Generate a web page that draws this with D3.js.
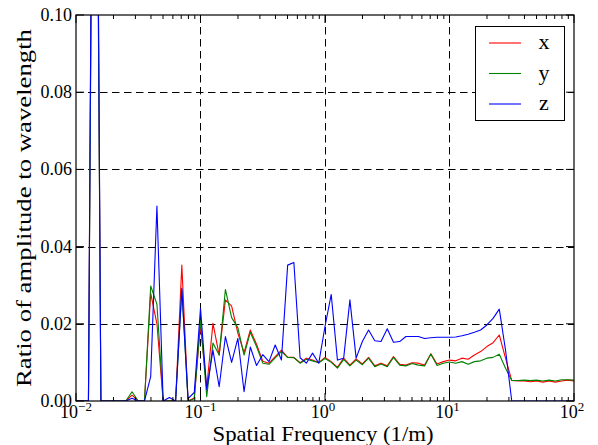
<!DOCTYPE html>
<html>
<head>
<meta charset="utf-8">
<script src="https://cdn.jsdelivr.net/npm/d3@7"></script>
<style>
  body { margin: 0; background: #fff; }
</style>
</head>
<body>
<div id="chart"></div>
<script>
// chart size and plot area
const width = 598;
const height = 445;
const margin = {top: 15, right: 24, bottom: 44, left: 76};
const serif = "'Liberation Serif', 'Times New Roman', serif";

// frequency grid: 81 log-spaced samples, 10^-2 .. 10^2
const freqExponents = d3.range(81).map(i => -2 + 0.05 * i);
const frequencies = freqExponents.map(e => Math.pow(10, e));

// series values (ratio of amplitude to wavelength)
const xValues = [0, 0, 0, 0.25, 0, 0, 0, 0, 0, 0.0015, 0, 0, 0.0279, 0.0200, 0, 0, 0, 0.0352, 0, 0.0008,
  0.0198, 0.0035, 0.0201, 0.0119, 0.0262, 0.0246, 0.0176, 0.0125, 0.0184, 0.0147, 0.0103, 0.0098, 0.0115, 0.0132, 0.0113, 0.0113, 0.0099, 0.0111, 0.0106, 0.0099,
  0.0113, 0.0102, 0.0087, 0.0111, 0.0093, 0.0109, 0.0096, 0.0113, 0.0091, 0.0098, 0.0091, 0.0115, 0.0095, 0.0093, 0.0099, 0.0098, 0.0093, 0.0122, 0.0096, 0.0102,
  0.0106, 0.0104, 0.0111, 0.0108, 0.0119, 0.0128, 0.0141, 0.0151, 0.0171, 0.0111, 0.0053, 0.0052, 0.0052, 0.0050, 0.0052, 0.0049, 0.0052, 0.0049, 0.0052, 0.0054, 0.0052];

const yValues = [0, 0, 0, 0.24, 0, 0, 0, 0, 0, 0.0024, 0, 0, 0.0298, 0.0251, 0, 0, 0, 0.0288, 0, 0.0006,
  0.0210, 0.0011, 0.0150, 0.0119, 0.0289, 0.0216, 0.0190, 0.0119, 0.0178, 0.0141, 0.0098, 0.0095, 0.0112, 0.0128, 0.0113, 0.0112, 0.0098, 0.0108, 0.0104, 0.0099,
  0.0110, 0.0100, 0.0085, 0.0108, 0.0091, 0.0106, 0.0094, 0.0111, 0.0089, 0.0096, 0.0089, 0.0113, 0.0093, 0.0091, 0.0097, 0.0093, 0.0091, 0.0122, 0.0092, 0.0098,
  0.0101, 0.0098, 0.0102, 0.0095, 0.0102, 0.0104, 0.0111, 0.0113, 0.0121, 0.0085, 0.0053, 0.0053, 0.0054, 0.0053, 0.0054, 0.0052, 0.0054, 0.0052, 0.0055, 0.0055, 0.0054];

const zValues = [0, 0, 0, 0.26, 0, 0, 0, 0, 0, 0.0007, 0, 0, 0.0063, 0.0505, 0, 0.0009, 0, 0.0292, 0.0006, 0.0022,
  0.0240, 0.0030, 0.0132, 0.0037, 0.0167, 0.0100, 0.0162, 0.0024, 0.0140, 0.0092, 0.0120, 0.0102, 0.0145, 0.0106, 0.0352, 0.0359, 0.0112, 0.0098, 0.0124, 0.0098,
  0.0193, 0.0276, 0.0106, 0.0111, 0.0262, 0.0111, 0.0154, 0.0184, 0.0156, 0.0154, 0.0187, 0.0152, 0.0154, 0.0167, 0.0167, 0.0167, 0.0162, 0.0164, 0.0165, 0.0165,
  0.0165, 0.0166, 0.0169, 0.0173, 0.0178, 0.0184, 0.0197, 0.0214, 0.0238, 0.0132, 0, 0, 0, 0, 0, 0, 0, 0, 0, 0, 0];

const seriesNames = ["x", "y", "z"];
const seriesColors = ["#ff0000", "#008000", "#0000ff"];
const yTicks = [0, 0.02, 0.04, 0.06, 0.08, 0.10];
const xTicks = [-2, -1, 0, 1, 2];

const series = [xValues, yValues, zValues].map((vals, k) => ({
  name: seriesNames[k],
  color: seriesColors[k],
  points: vals.map((v, i) => ({f: frequencies[i], v: v}))
}));

const x = d3.scaleLog()
  .domain([0.01, 100])
  .range([margin.left, width - margin.right]);

const y = d3.scaleLinear()
  .domain([0, 0.10])
  .range([height - margin.bottom, margin.top]);

const plotBottom = height - margin.bottom;
const plotTop = margin.top;

const svg = d3.select("#chart")
  .append("svg")
  .attr("width", width)
  .attr("height", height)
  .attr("font-family", serif);

svg.append("defs").append("clipPath")
  .attr("id", "plot-clip")
  .append("rect")
  .attr("x", margin.left)
  .attr("y", margin.top)
  .attr("width", width - margin.left - margin.right)
  .attr("height", height - margin.top - margin.bottom);

// dashed grid
const grid = svg.append("g")
  .attr("stroke", "#000")
  .attr("stroke-width", 1)
  .attr("stroke-dasharray", "7.5,4.5");

grid.selectAll("line.gx")
  .data(xTicks.slice(1, -1))
  .enter().append("line")
  .attr("x1", d => Math.round(x(Math.pow(10, d))) + 0.5)
  .attr("x2", d => Math.round(x(Math.pow(10, d))) + 0.5)
  .attr("y1", plotTop)
  .attr("y2", plotBottom);

grid.selectAll("line.gy")
  .data(yTicks.slice(1, -1))
  .enter().append("line")
  .attr("x1", margin.left)
  .attr("x2", width - margin.right)
  .attr("y1", d => Math.round(y(d)) + 0.5)
  .attr("y2", d => Math.round(y(d)) + 0.5);

// series lines
const line = d3.line()
  .x(d => x(d.f))
  .y(d => y(d.v));

svg.append("g")
  .attr("clip-path", "url(#plot-clip)")
  .selectAll("path")
  .data(series)
  .enter().append("path")
  .attr("d", d => line(d.points))
  .attr("fill", "none")
  .attr("stroke", d => d.color)
  .attr("stroke-width", 1.1)
  .attr("stroke-linejoin", "round");

// axes: ticks inside on all four sides
const minorTicks = [];
for (let e = -2; e < 2; e++) {
  for (let m = 2; m <= 9; m++) minorTicks.push(m * Math.pow(10, e));
}

const ticks = svg.append("g").attr("stroke", "#000").attr("stroke-width", 1);

xTicks.forEach(e => {
  const px = x(Math.pow(10, e));
  ticks.append("line").attr("x1", px).attr("x2", px).attr("y1", plotBottom).attr("y2", plotBottom - 8);
  ticks.append("line").attr("x1", px).attr("x2", px).attr("y1", plotTop).attr("y2", plotTop + 8);
});
minorTicks.forEach(f => {
  const px = x(f);
  ticks.append("line").attr("x1", px).attr("x2", px).attr("y1", plotBottom).attr("y2", plotBottom - 4);
  ticks.append("line").attr("x1", px).attr("x2", px).attr("y1", plotTop).attr("y2", plotTop + 4);
});
yTicks.forEach(v => {
  const py = y(v);
  ticks.append("line").attr("x1", margin.left).attr("x2", margin.left + 8).attr("y1", py).attr("y2", py);
  ticks.append("line").attr("x1", width - margin.right).attr("x2", width - margin.right - 8).attr("y1", py).attr("y2", py);
});

// frame
svg.append("rect")
  .attr("x", margin.left)
  .attr("y", margin.top)
  .attr("width", width - margin.left - margin.right)
  .attr("height", height - margin.top - margin.bottom)
  .attr("fill", "none")
  .attr("stroke", "#000")
  .attr("stroke-width", 1.2);

// tick labels
svg.append("g")
  .selectAll("text")
  .data(yTicks)
  .enter().append("text")
  .attr("x", margin.left - 4)
  .attr("y", d => y(d) + 6)
  .attr("text-anchor", "end")
  .attr("font-size", 18)
  .text(d => d.toFixed(2));

const xl = svg.append("g")
  .selectAll("text")
  .data(xTicks)
  .enter().append("text")
  .attr("x", d => x(Math.pow(10, d)) + (d < 0 ? 0 : -2))
  .attr("y", plotBottom + 17)
  .attr("text-anchor", "middle")
  .attr("font-size", 18);
xl.append("tspan").text("10");
xl.append("tspan")
  .attr("dy", -7)
  .attr("font-size", 13)
  .text(d => d < 0 ? "\u2212" + Math.abs(d) : d);

// axis titles
svg.append("text")
  .attr("x", x(1) - 2)
  .attr("y", height - 4)
  .attr("text-anchor", "middle")
  .attr("font-size", 21)
  .attr("textLength", 221)
  .attr("lengthAdjust", "spacingAndGlyphs")
  .text("Spatial Frequency (1/m)");

svg.append("text")
  .attr("transform", "translate(31," + ((plotTop + plotBottom) / 2) + ") rotate(-90)")
  .attr("text-anchor", "middle")
  .attr("font-size", 22)
  .attr("textLength", 358)
  .attr("lengthAdjust", "spacingAndGlyphs")
  .text("Ratio of amplitude to wavelength");

// legend
const legend = svg.append("g");
legend.append("rect")
  .attr("x", 475.5)
  .attr("y", 26.5)
  .attr("width", 89)
  .attr("height", 94)
  .attr("fill", "#fff")
  .attr("stroke", "#000")
  .attr("stroke-width", 1);

const item = legend.selectAll("g.item")
  .data(series)
  .enter().append("g")
  .attr("transform", (d, i) => "translate(0," + (43 + i * 30.5) + ")");
item.append("line")
  .attr("x1", 489).attr("x2", 521)
  .attr("y1", 0).attr("y2", 0)
  .attr("stroke", d => d.color)
  .attr("stroke-width", 1.1);
item.append("text")
  .attr("x", 544)
  .attr("y", 6)
  .attr("text-anchor", "middle")
  .attr("font-size", 22)
  .text(d => d.name);
</script>
</body>
</html>
